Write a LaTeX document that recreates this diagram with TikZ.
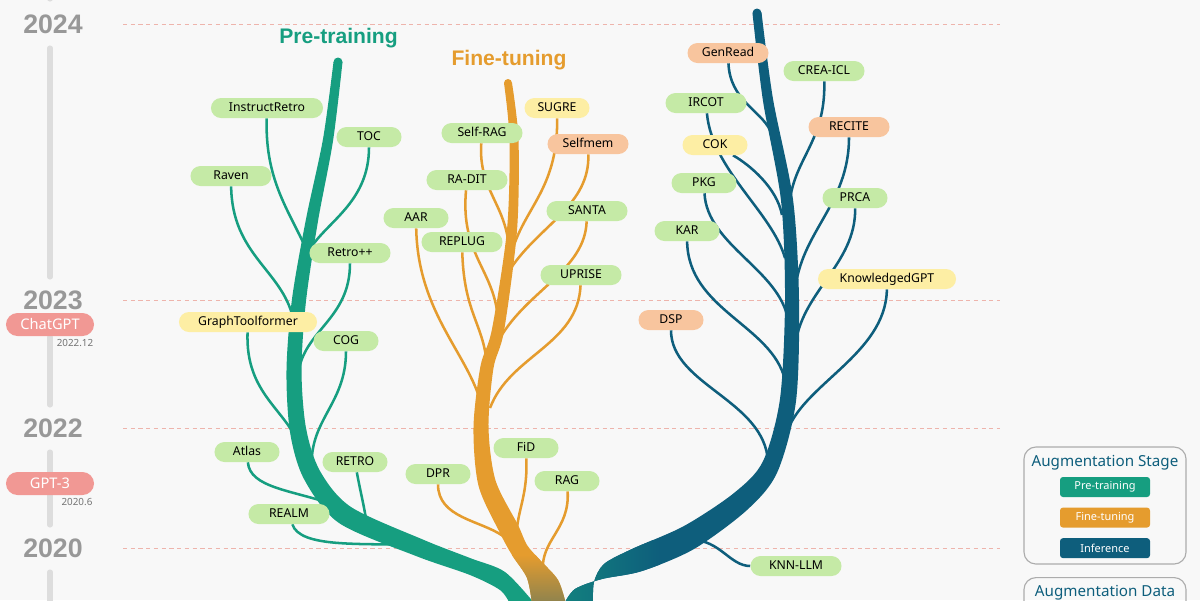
\documentclass[tikz,border=0pt]{standalone}
\usepackage{fontspec}
\setmainfont{Noto Sans}
\newfontfamily\headfont{Liberation Sans}
\usetikzlibrary{positioning}
\definecolor{ptcol}{RGB}{22,158,128}
\definecolor{ftcol}{RGB}{229,156,46}
\definecolor{incol}{RGB}{14,94,124}
\definecolor{gfill}{RGB}{197,234,166}
\definecolor{yfill}{RGB}{253,238,164}
\definecolor{ofill}{RGB}{248,197,158}
\definecolor{badgecol}{RGB}{241,152,148}
\definecolor{dashcol}{RGB}{238,180,172}
\definecolor{yearcol}{RGB}{152,152,152}
\definecolor{barcol}{RGB}{221,221,221}
\definecolor{bgcol}{RGB}{248,248,248}
\pgfdeclarelayer{bg}
\pgfdeclarelayer{tree}
\pgfsetlayers{bg,tree,main}

\begin{document}
\begin{tikzpicture}[x=0.025cm, y=-0.025cm,
    pill/.style={rounded corners=0.25cm, minimum height=0.5cm, inner sep=0pt, text height=6.3pt, text depth=1.8pt, font=\fontsize{8.7}{10}\selectfont},
    sw/.style={pill, minimum width=1.625cm},
    mw/.style={pill, minimum width=2.025cm},
    gbox/.style={fill=gfill}, ybox/.style={fill=yfill}, obox/.style={fill=ofill},
    ptbranch/.style={draw=ptcol, line width=1.8pt},
    ftbranch/.style={draw=ftcol, line width=1.8pt},
    inbranch/.style={draw=incol, line width=1.8pt},
    pttrunk/.style={insert path={plot[smooth] coordinates {(333.5,62) (323,139) (306,219) (292,299) (286.5,370) (290,432) (304,479) (339,523) (416,556) (470,575) (500,590) (510,604)}
        -- plot[smooth] coordinates {(535,604) (505,572) (470,558) (424,540) (351,507) (320,471) (306,428) (301.5,370) (306,301) (318,221) (333,141) (342.5,62)} -- cycle}},
    fttrunk/.style={insert path={plot[smooth] coordinates {(504,83) (509.5,140) (507,229.5) (492,329) (480.5,366) (473.5,427) (478.5,485.7) (500,533) (512,555) (527,578) (532,604)}
        -- plot[smooth] coordinates {(566,604) (558,580) (540,560) (527,545) (518,525) (495.5,480.3) (488.5,427) (493.5,368) (504,331) (517,230.5) (518.5,140) (512,83)} -- cycle}},
    intrunk/.style={insert path={plot[smooth] coordinates {(752.5,13.5) (763,101) (781,200.6) (785,300) (780,398.8) (762.8,461.6) (734,493) (684,526) (632,549) (604,564) (594,582) (593,604)}
        -- plot[smooth] coordinates {(564,604) (575,589) (602,579) (642,571) (694,549) (747,510) (777.2,472.4) (796,401.2) (799,300) (793,199.4) (773,99) (761.5,12.5)} -- cycle}},
    dashline/.style={draw=dashcol, line width=0.7pt, dash pattern=on 3pt off 2.5pt},
    tbar/.style={draw=barcol, line width=3.6pt, line cap=round},
    year/.style={font=\headfont\fontsize{19}{21}\selectfont\bfseries, text=yearcol, inner sep=0pt},
    badge/.style={fill=badgecol, text=white, rounded corners=0.2875cm, minimum width=2.2cm, minimum height=0.575cm, inner sep=0pt, font=\fontsize{10.4}{12}\selectfont},
    datelbl/.style={font=\fontsize{7}{8}\selectfont, text=black!55, inner sep=0pt},
    stagetitle/.style={font=\headfont\fontsize{15}{17}\selectfont\bfseries, inner sep=0pt},
    legbtn/.style={rounded corners=0.075cm, minimum width=2.25cm, minimum height=0.5cm, inner sep=0pt, text=white, font=\fontsize{7.8}{9}\selectfont},
    legbox/.style={draw=gray!65, line width=0.8pt, rounded corners=0.3cm, minimum width=4.05cm},
    legtitle/.style={text=incol, inner sep=0pt, font=\fontsize{10.8}{12}\selectfont}]
    \useasboundingbox (0,0) rectangle (1200,600);
    \clip (0,0) rectangle (1200,600);

    % timeline
    \begin{pgfonlayer}{bg}
    \clip (0,0) rectangle (1200,600);
    \fill[bgcol] (0,0) rectangle (1200,600);
    \foreach \yr in {24,300,428,548}
        \draw[dashline] (123,\yr) -- (1000,\yr);
    \foreach \ya/\yb in {-10/-1, 48/277, 337/405, 452/525, 572/620}
        \draw[tbar] (50,\ya) -- (50,\yb);
    \end{pgfonlayer}
    \foreach \yy/\yt in {24.5/2024, 300/2023, 428/2022, 548/2020}
        \node[year] (y\yt) at (53,\yy) {\yt};
    \node[badge] (chatgpt) at (50,324.5) {ChatGPT};
    \node[datelbl] (chatgptdate) at (75,343) {2022.12};
    \node[badge] (gptthree) at (50,483.5) {GPT-3};
    \node[datelbl] (gptthreedate) at (77,502) {2020.6};

    % titles
    \node[stagetitle, text=ptcol] (pttitle) at (338.5,38) {Pre-training};
    \node[stagetitle, text=ftcol] (fttitle) at (509,60) {Fine-tuning};

    % pre-training
    \node[pill, gbox, minimum width=2.8cm] (instructretro) at (267,108) {InstructRetro};
    \node[sw, gbox] (toc) at (369,137) {TOC};
    \node[mw, gbox] (raven) at (231,176) {Raven};
    \node[mw, gbox] (retropp) at (350,253) {Retro++};
    \node[pill, ybox, minimum width=3.45cm] (graphtool) at (248,322) {GraphToolformer};
    \node[sw, gbox] (cog) at (346,341) {COG};
    \node[sw, gbox] (atlas) at (247,452) {Atlas};
    \node[sw, gbox] (retro) at (355,462) {RETRO};
    \node[mw, gbox] (realm) at (289,514) {REALM};

    % fine-tuning
    \node[sw, ybox] (sugre) at (557,108) {SUGRE};
    \node[mw, gbox] (selfrag) at (482,133) {Self-RAG};
    \node[mw, obox] (selfmem) at (588,144) {Selfmem};
    \node[mw, gbox] (radit) at (467,180) {RA-DIT};
    \node[sw, gbox] (aar) at (416,218) {AAR};
    \node[mw, gbox] (santa) at (587,211) {SANTA};
    \node[mw, gbox] (replug) at (462,242) {REPLUG};
    \node[mw, gbox] (uprise) at (581,275) {UPRISE};
    \node[sw, gbox] (dpr) at (438,474) {DPR};
    \node[sw, gbox] (fid) at (526,448) {FiD};
    \node[sw, gbox] (rag) at (567,481) {RAG};

    % inference
    \node[mw, obox] (genread) at (728,53) {GenRead};
    \node[mw, gbox] (crea) at (824,71) {CREA-ICL};
    \node[mw, gbox] (ircot) at (706,103) {IRCOT};
    \node[mw, obox] (recite) at (849,127) {RECITE};
    \node[sw, ybox] (cok) at (715,145) {COK};
    \node[sw, gbox] (pkg) at (704,183) {PKG};
    \node[sw, gbox] (prca) at (855,198) {PRCA};
    \node[sw, gbox] (kar) at (687,231) {KAR};
    \node[pill, ybox, minimum width=3.45cm] (kgpt) at (887,279) {KnowledgedGPT};
    \node[sw, obox] (dsp) at (671,320) {DSP};
    \node[pill, gbox, minimum width=2.275cm] (knn) at (796,566) {KNN-LLM};

    % joints on the trunks
    \foreach \n/\xx/\yy in {instructretro/303/242, toc/312/246, raven/293/318, retropp/298/375,
        graphtool/300/448, cog/312/470, atlas/335/505, retro/367/525, realm/415/545,
        sugre/514/245, selfrag/509/250, selfmem/511/268, radit/498/320, santa/500/338,
        replug/487/368, aar/484/418, uprise/490/408, dpr/503/536, fid/518/552, rag/543/572,
        genread/770/130, crea/789/212, ircot/785/258, recite/795/292, cok/782/215,
        pkg/788/320, prca/795/348, kar/785/380, kgpt/786/435, dsp/768/462, knn/692/540}
        \coordinate (j\n) at (\xx,\yy);

    \begin{pgfonlayer}{tree}
    \clip (0,0) rectangle (1200,600);
    \draw[ptbranch] (instructretro) .. controls (265,175) and (285,205) .. (jinstructretro);
    \draw[ptbranch] (toc) .. controls (369,200) and (330,220) .. (jtoc);
    \draw[ptbranch] (raven) .. controls (232,255) and (282,270) .. (jraven);
    \draw[ptbranch] (retropp) .. controls (350,320) and (303,330) .. (jretropp);
    \draw[ptbranch] (graphtool) .. controls (245,395) and (288,410) .. (jgraphtool);
    \draw[ptbranch] (cog) .. controls (346,405) and (308,420) .. (jcog);
    \draw[ptbranch] (atlas) .. controls (250,488) and (292,490) .. (jatlas);
    \draw[ptbranch] (retro) .. controls (360,490) and (364,505) .. (jretro);
    \draw[ptbranch] (realm) .. controls (300,548) and (360,543) .. (jrealm);

    \draw[ftbranch] (sugre) .. controls (558,185) and (528,205) .. (jsugre);
    \draw[ftbranch] (selfrag) .. controls (478,190) and (507,205) .. (jselfrag);
    \draw[ftbranch] (selfmem) .. controls (590,205) and (540,225) .. (jselfmem);
    \draw[ftbranch] (radit) .. controls (460,255) and (495,270) .. (jradit);
    \draw[ftbranch] (santa) .. controls (585,270) and (528,290) .. (jsanta);
    \draw[ftbranch] (replug) .. controls (464,315) and (485,325) .. (jreplug);
    \draw[ftbranch] (aar) .. controls (418,320) and (477,360) .. (jaar);
    \draw[ftbranch] (uprise) .. controls (578,345) and (510,355) .. (juprise);
    \draw[ftbranch] (dpr) .. controls (438,518) and (480,520) .. (jdpr);
    \draw[ftbranch] (fid) .. controls (528,505) and (512,515) .. (jfid);
    \draw[ftbranch] (rag) .. controls (570,530) and (540,540) .. (jrag);

    \draw[inbranch] (genread) .. controls (730,100) and (760,110) .. (jgenread);
    \draw[inbranch] (crea) .. controls (826,145) and (790,160) .. (jcrea);
    \draw[inbranch] (ircot) .. controls (712,170) and (772,212) .. (jircot);
    \draw[inbranch] (recite) .. controls (849,205) and (800,232) .. (jrecite);
    \draw[inbranch] (cok) .. controls (750,165) and (777,188) .. (jcok);
    \draw[inbranch] (pkg) .. controls (707,245) and (780,270) .. (jpkg);
    \draw[inbranch] (prca) .. controls (856,265) and (800,292) .. (jprca);
    \draw[inbranch] (kar) .. controls (688,310) and (772,325) .. (jkar);
    \draw[inbranch] (kgpt) .. controls (886,355) and (800,385) .. (jkgpt);
    \draw[inbranch] (dsp) .. controls (671,385) and (765,400) .. (jdsp);
    \draw[inbranch] (knn) .. controls (730,566) and (720,540) .. (jknn);

    % trunks
    \fill[ptcol, pttrunk];
    \fill[ptcol] (338,62) circle[radius=0.1125cm];
    \fill[incol, intrunk];
    \fill[incol] (757,13) circle[radius=0.1125cm];
    \begin{scope}
        \clip[intrunk];
        \shade[left color=ptcol!55!incol, right color=incol] (560,540) rectangle (660,615);
    \end{scope}
    \fill[ftcol, fttrunk];
    \fill[ftcol] (508,83) circle[radius=0.1cm];
    \begin{scope}
        \clip[fttrunk];
        \shade[top color=ftcol, bottom color=ftcol!60!incol] (470,555) rectangle (580,602);
    \end{scope}
    \end{pgfonlayer}

    % legend
    \node[legbox, minimum height=2.925cm] (stagebox) at (1105,505.5) {};
    \node[legtitle] (stagettl) at (1105,463) {Augmentation Stage};
    \node[legbtn, fill=ptcol] (lgpt) at (1105,487) {Pre-training};
    \node[legbtn, fill=ftcol, below=0.25cm of lgpt] (lgft) {Fine-tuning};
    \node[legbtn, fill=incol, below=0.25cm of lgft] (lgin) {Inference};
    \node[legbox, minimum height=2.5cm, anchor=north] (databox) at (1105,577) {};
    \node[legtitle] (datattl) at (1105,593) {Augmentation Data};
\end{tikzpicture}
\end{document}
